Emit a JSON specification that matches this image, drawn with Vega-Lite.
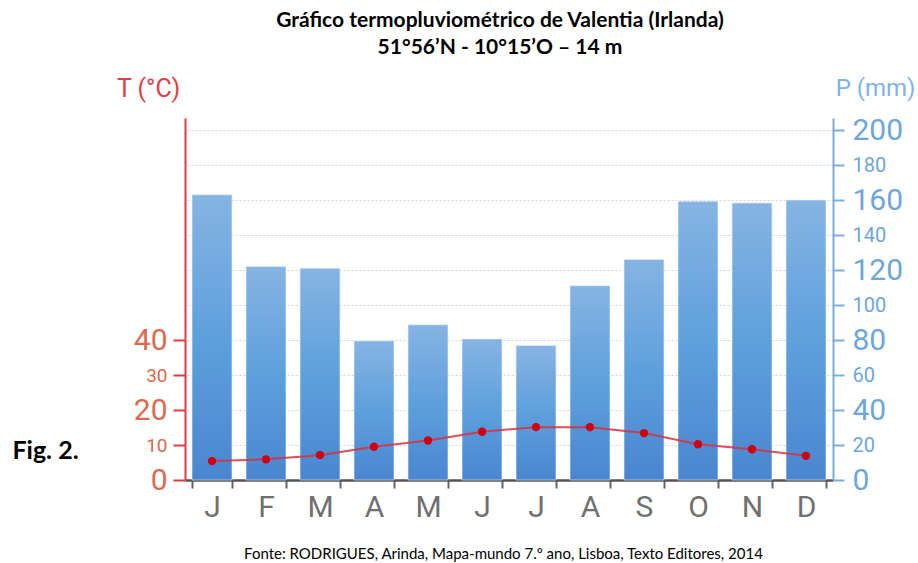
{
  "$schema": "https://vega.github.io/schema/vega-lite/v6.json",
  "autosize": {"type": "none"},
  "width": 648,
  "height": 362,
  "padding": {"left": 185, "top": 118, "right": 85, "bottom": 83},
  "background": "white",
  "title": {
    "text": ["Gráfico termopluviométrico de Valentia (Irlanda)", "51°56’N - 10°15’O – 14 m"],
    "font": "Lato",
    "fontSize": 21,
    "fontWeight": "bold",
    "color": "#000000",
    "lineHeight": 27,
    "anchor": "middle",
    "frame": "group",
    "dx": -9,
    "dy": -14
  },
  "data": {
    "values": [
      {"mes": "Jan", "P": 163, "T": 5.4},
      {"mes": "Fev", "P": 122, "T": 5.9},
      {"mes": "Mar", "P": 121, "T": 7.1},
      {"mes": "Abr", "P": 79.5, "T": 9.5},
      {"mes": "Mai", "P": 88.7, "T": 11.3},
      {"mes": "Jun", "P": 80.6, "T": 13.8},
      {"mes": "Jul", "P": 76.8, "T": 15.1},
      {"mes": "Ago", "P": 111, "T": 15.1},
      {"mes": "Set", "P": 126, "T": 13.4},
      {"mes": "Out", "P": 159.3, "T": 10.2},
      {"mes": "Nov", "P": 158.3, "T": 8.8},
      {"mes": "Dez", "P": 160, "T": 6.9}
    ]
  },
  "encoding": {
    "x": {
      "field": "mes",
      "type": "nominal",
      "sort": null,
      "scale": {"paddingInner": 0.26, "paddingOuter": 0.13},
      "axis": {
        "labelAngle": 0,
        "labelExpr": "substring(datum.label, 0, 1)",
        "labelFont": "Roboto",
        "labelFontSize": 30,
        "labelFontWeight": "normal",
        "labelColor": "#707070",
        "labelPadding": 4,
        "domainColor": "#555555",
        "domainWidth": 2.5,
        "tickColor": "#666666",
        "tickWidth": 2,
        "tickSize": 8,
        "tickBand": "extent",
        "title": "Fonte: RODRIGUES, Arinda, Mapa-mundo 7.º ano, Lisboa, Texto Editores, 2014",
        "titleFont": "Lato",
        "titleFontSize": 15,
        "titleFontWeight": "normal",
        "titleColor": "#000000",
        "titleX": 318,
        "titleY": 73,
        "titleAlign": "center",
        "titleBaseline": "middle"
      }
    }
  },
  "layer": [
    {
      "mark": {
        "type": "bar",
        "color": {
          "gradient": "linear",
          "x1": 0, "y1": 0, "x2": 0, "y2": 1,
          "stops": [
            {"offset": 0, "color": "#86b4e3"},
            {"offset": 0.5, "color": "#5ea0dc"},
            {"offset": 1, "color": "#4a86d0"}
          ]
        },
        "stroke": "#e6f0fa",
        "strokeWidth": 0.6
      },
      "encoding": {
        "y": {
          "field": "P",
          "type": "quantitative",
          "scale": {"domain": [0, 206.86], "nice": false},
          "axis": {
            "orient": "right",
            "values": [0, 20, 40, 60, 80, 100, 120, 140, 160, 180, 200],
            "grid": true,
            "gridColor": "#d4d4d4",
            "gridDash": [2, 2],
            "gridWidth": 1.2,
            "domainColor": "#7aaee2",
            "domainWidth": 2,
            "tickColor": "#7aaee2",
            "tickWidth": 2,
            "tickSize": 11,
            "labelFont": "Roboto",
            "labelFontWeight": "normal",
            "labelColor": "#6ea6dc",
            "labelPadding": 8,
            "labelFontSize": {"condition": {"test": "datum.value % 40 === 0", "value": 30}, "value": 20},
            "title": "P (mm)",
            "titleFont": "Roboto",
            "titleFontWeight": "normal",
            "titleFontSize": 24,
            "titleColor": "#7fb2e5",
            "titleAngle": 0,
            "titleX": 42,
            "titleY": -30,
            "titleAlign": "center",
            "titleBaseline": "middle"
          }
        }
      }
    },
    {
      "mark": {"type": "line", "color": "#d9303c", "strokeWidth": 2, "opacity": 0.85},
      "encoding": {
        "y": {
          "field": "T",
          "type": "quantitative",
          "scale": {"domain": [0, 103.43], "nice": false},
          "axis": {
            "orient": "left",
            "values": [0, 10, 20, 30, 40],
            "grid": false,
            "domainColor": "#e03a42",
            "domainWidth": 2,
            "tickColor": "#e03a42",
            "tickWidth": 2,
            "tickSize": 12,
            "labelFont": "Roboto",
            "labelFontWeight": "normal",
            "labelColor": "#dc6a4e",
            "labelPadding": 6,
            "labelFontSize": {"condition": {"test": "datum.value % 20 === 0", "value": 30}, "value": 19},
            "title": "T (°C)",
            "titleFont": "Roboto",
            "titleFontWeight": "normal",
            "titleFontSize": 25,
            "titleColor": "#e0404a",
            "titleAngle": 0,
            "titleX": -37,
            "titleY": -30,
            "titleAlign": "center",
            "titleBaseline": "middle"
          }
        }
      }
    },
    {
      "mark": {"type": "circle", "color": "#cc0010", "size": 70, "opacity": 1},
      "encoding": {
        "y": {
          "field": "T",
          "type": "quantitative",
          "scale": {"domain": [0, 103.43], "nice": false},
          "axis": {
            "orient": "left",
            "labels": false,
            "ticks": false,
            "domain": false,
            "grid": false,
            "title": "Fig. 2.",
            "titleFont": "Lato",
            "titleFontSize": 25,
            "titleFontWeight": "bold",
            "titleColor": "#000000",
            "titleAngle": 0,
            "titleX": -140,
            "titleY": 332,
            "titleAlign": "center",
            "titleBaseline": "middle"
          }
        }
      }
    }
  ],
  "resolve": {"scale": {"y": "independent"}, "axis": {"y": "independent"}},
  "config": {"view": {"stroke": null}}
}
